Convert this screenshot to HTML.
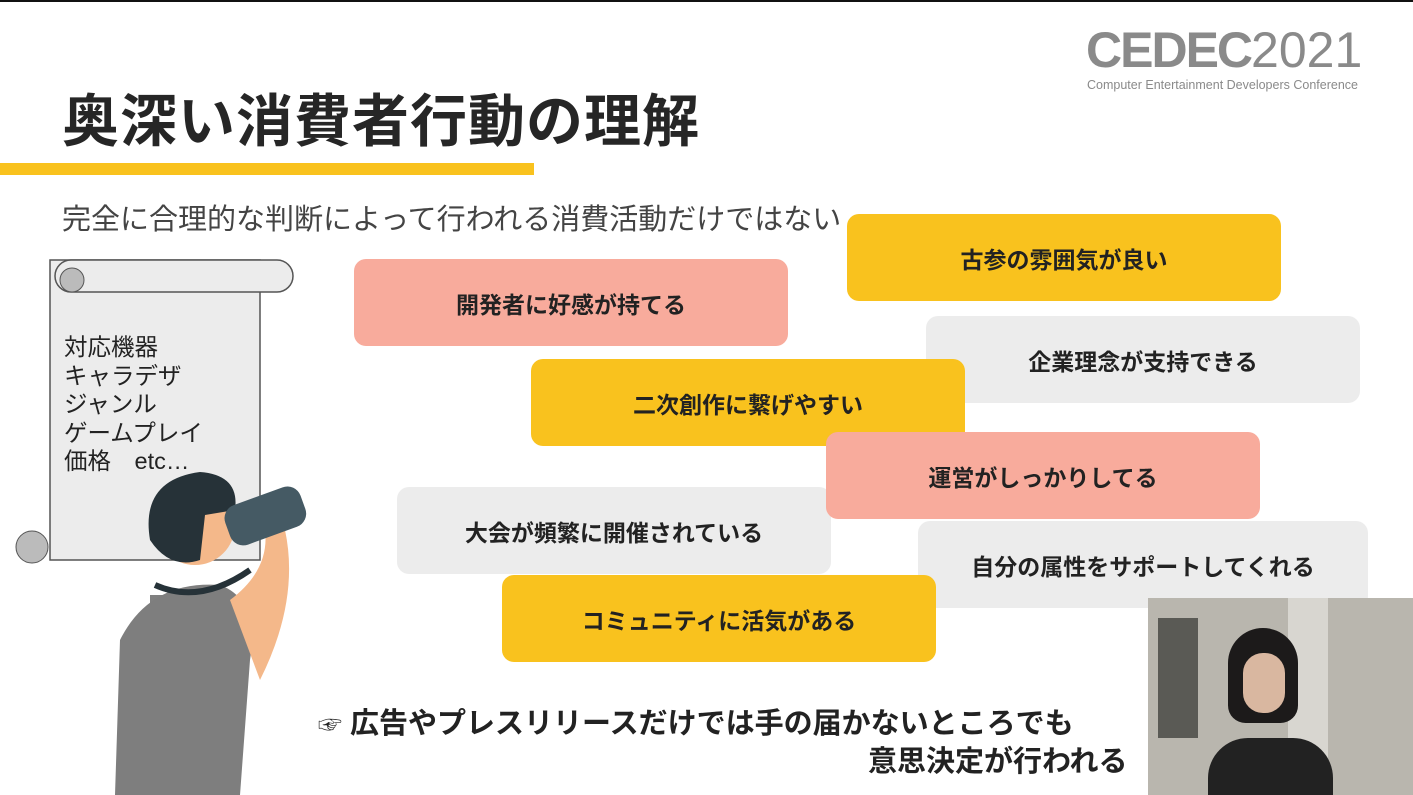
<!DOCTYPE html>
<html><head><meta charset="utf-8"><style>
body{margin:0;width:1413px;height:795px;overflow:hidden;background:#fff;position:relative;font-family:"Liberation Sans","Noto Sans CJK JP",sans-serif}
.a{position:absolute;white-space:nowrap}
.b{position:absolute;width:434px;height:87px;border-radius:12px;display:flex;align-items:center;justify-content:center;font-weight:bold;font-size:23px;color:#222}
.y{background:#f9c21e}.p{background:#f8ab9c}.g{background:#ececec}
</style></head><body>
<div class="a" style="left:0;top:0;width:1413px;height:2px;background:#111"></div>
<div class="a" style="left:62px;top:76px;font-size:57px;font-weight:bold;color:#262626;letter-spacing:1px">奥深い消費者行動の理解</div>
<div class="a" style="left:0;top:163px;width:534px;height:12px;background:#f9c21e"></div>
<div class="a" style="left:62px;top:196px;font-size:29px;color:#444">完全に合理的な判断によって行われる消費活動だけではない</div>
<div class="a" style="left:1086px;top:22px;font-size:50px;color:#8a8a8a;line-height:56px"><b style="font-weight:900;letter-spacing:-2px">CEDEC</b><span style="font-weight:200">2021</span></div>
<div class="a" style="left:1087px;top:78px;font-size:12.5px;color:#8a8a8a">Computer Entertainment Developers Conference</div>

<svg class="a" style="left:0;top:240px" width="340" height="555">
<rect x="50" y="20" width="210" height="300" fill="#ececec" stroke="#555" stroke-width="1.5"/>
<rect x="55" y="20" width="238" height="32" rx="16" fill="#ececec" stroke="#555" stroke-width="1.5"/>
<circle cx="72" cy="40" r="12" fill="#bbb" stroke="#555"/>
<circle cx="32" cy="307" r="16" fill="#bbb" stroke="#555"/>
<rect x="150" y="355" width="90" height="200" fill="#808080"/>
<path d="M120 400 Q150 340 220 345 Q260 360 250 420 L240 555 L115 555 Z" fill="#7e7e7e"/>
<path d="M230 360 Q270 330 265 290 L285 290 Q300 360 260 440 Z" fill="#f4b88a"/>
<circle cx="195" cy="285" r="40" fill="#f4b88a"/>
<path d="M150 300 Q140 240 200 232 Q240 235 235 270 L205 275 L200 320 Q170 330 150 300Z" fill="#263238"/>
<rect x="225" y="255" width="80" height="42" rx="14" fill="#455a64" transform="rotate(-20 265 275)"/>
<path d="M155 345 Q200 365 250 330" stroke="#263238" stroke-width="6" fill="none"/>
</svg>
<div class="a" style="left:64px;top:333px;font-size:23.5px;line-height:28.5px;color:#222">対応機器<br>キャラデザ<br>ジャンル<br>ゲームプレイ<br>価格　etc…</div>

<div class="b g" style="left:926px;top:316px">企業理念が支持できる</div>
<div class="b y" style="left:847px;top:214px">古参の雰囲気が良い</div>
<div class="b p" style="left:354px;top:259px">開発者に好感が持てる</div>
<div class="b y" style="left:531px;top:359px">二次創作に繋げやすい</div>
<div class="b g" style="left:397px;top:487px">大会が頻繁に開催されている</div>
<div class="b p" style="left:826px;top:432px">運営がしっかりしてる</div>
<div class="b g" style="left:918px;top:521px;width:450px">自分の属性をサポートしてくれる</div>
<div class="b y" style="left:502px;top:575px">コミュニティに活気がある</div>

<div class="a" style="left:318px;top:700px;font-size:29px;font-weight:bold;color:#222"><span style="font-weight:normal;font-size:24px">☞</span> 広告やプレスリリースだけでは手の届かないところでも</div>
<div class="a" style="left:868px;top:738px;font-size:29px;font-weight:bold;color:#222">意思決定が行われる</div>

<div class="a" style="left:1148px;top:598px;width:265px;height:197px;background:#b9b6ae;overflow:hidden">
<div class="a" style="left:10px;top:20px;width:40px;height:120px;background:#5a5a55"></div>
<div class="a" style="left:140px;top:0;width:40px;height:197px;background:#d8d6d0"></div>
<div class="a" style="left:80px;top:30px;width:70px;height:95px;border-radius:40px 40px 20px 20px;background:#1c1a1a"></div>
<div class="a" style="left:95px;top:55px;width:42px;height:60px;border-radius:20px;background:#d9b7a0"></div>
<div class="a" style="left:60px;top:140px;width:125px;height:70px;border-radius:40px 40px 0 0;background:#222"></div>
</div>
</body></html>
